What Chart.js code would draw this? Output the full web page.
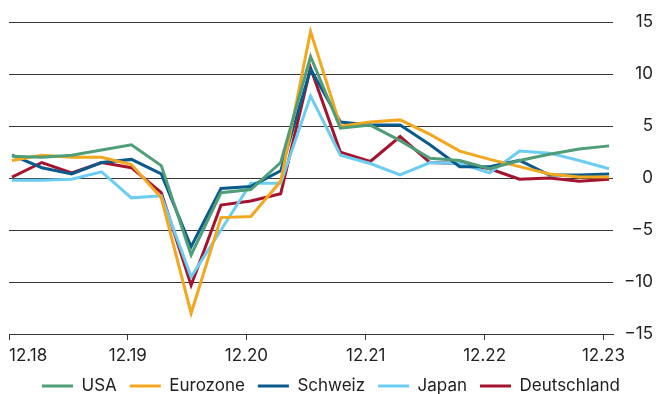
<!DOCTYPE html>
<html>
<head>
<meta charset="utf-8">
<script src="https://cdn.jsdelivr.net/npm/chart.js@4/dist/chart.umd.min.js"></script>
<style>
  html, body { margin: 0; padding: 0; background: #ffffff; }
  canvas { display: block; }
</style>
</head>
<body>
<canvas id="chart" width="667" height="394"></canvas>
<script>
// Quarterly growth rates (%, year over year), Q4 2018 – Q4 2023
const periods = [
  '12.18', '03.19', '06.19', '09.19',
  '12.19', '03.20', '06.20', '09.20',
  '12.20', '03.21', '06.21', '09.21',
  '12.21', '03.22', '06.22', '09.22',
  '12.22', '03.23', '06.23', '09.23',
  '12.23'
];

const usa = [2.1, 2.0, 2.2, 2.7, 3.2, 1.2, -7.4, -1.4, -1.1, 1.5, 11.7, 4.8, 5.1, 3.6, 1.9, 1.7, 0.9, 1.7, 2.3, 2.8, 3.1];
const eurozone = [1.7, 2.2, 2.0, 2.0, 1.3, -1.9, -13.0, -3.8, -3.7, -0.3, 14.1, 5.0, 5.4, 5.6, 4.2, 2.6, 1.8, 1.1, 0.4, 0.1, 0.1];
const schweiz = [2.2, 1.0, 0.4, 1.5, 1.8, 0.4, -6.6, -1.0, -0.8, 0.7, 10.5, 5.4, 5.1, 5.1, 3.2, 1.1, 1.1, 1.7, 0.3, 0.3, 0.4];
const japan = [-0.2, -0.2, -0.1, 0.6, -1.9, -1.7, -9.5, -5.0, -0.5, -0.5, 7.9, 2.2, 1.4, 0.3, 1.5, 1.4, 0.5, 2.6, 2.4, 1.7, 0.9];
const deutschland = [0.1, 1.5, 0.5, 1.5, 1.0, -1.4, -10.3, -2.6, -2.2, -1.5, 10.6, 2.5, 1.6, 4.0, 1.5, 1.4, 0.9, -0.1, 0.0, -0.3, -0.1];

// Year-end labels on the time axis (every fourth quarter)
const yearTicks = periods.filter((p, i) => i % 4 === 0);
const yTickValues = [15, 10, 5, 0, -5, -10, -15];

const FONT = { family: 'Inter, "Noto Sans", sans-serif', size: 17 };
const TEXT = '#222222';
const RULE = '#363636';

// Year marks sit slightly ahead of the December data points
const yearMarkAt = [-0.1, 3.88, 7.85, 11.85, 15.83, 19.81];
const X_MIN = -0.1;
const X_MAX = 20.13;

const LEGEND_HEIGHT = 29.5;
const X_AXIS_HEIGHT = 30.5;
const Y_AXIS_WIDTH = 40;

const toPoints = arr => arr.map((v, i) => ({ x: i, y: v }));

function series(label, values, color) {
  return {
    label,
    data: toPoints(values),
    borderColor: color,
    backgroundColor: color,
    borderWidth: 3,
    pointRadius: 0,
    tension: 0,
    borderJoinStyle: 'miter',
    borderCapStyle: 'butt'
  };
}

// Keep the legend strip compact at the foot of the canvas
const compactLegend = {
  id: 'compactLegend',
  beforeInit(chart) {
    const legend = chart.legend;
    if (!legend) return;
    const fit = legend.fit;
    legend.fit = function () {
      fit.call(this);
      this.height = LEGEND_HEIGHT;
    };
  }
};

new Chart(document.getElementById('chart'), {
  type: 'line',
  data: {
    datasets: [
      series('USA', usa, '#4f9e78'),
      series('Eurozone', eurozone, '#f2a71e'),
      series('Schweiz', schweiz, '#0a5a8c'),
      series('Japan', japan, '#6ccdf3'),
      series('Deutschland', deutschland, '#a5142f')
    ]
  },
  plugins: [compactLegend],
  options: {
    responsive: false,
    animation: false,
    layout: { padding: { left: 9, right: 14, top: 20.3, bottom: 0 } },
    plugins: {
      tooltip: { enabled: false },
      legend: {
        position: 'bottom',
        labels: {
          usePointStyle: true,
          pointStyle: 'line',
          pointStyleWidth: 31,
          padding: 13,
          font: FONT,
          color: TEXT
        }
      }
    },
    scales: {
      x: {
        type: 'linear',
        min: X_MIN,
        max: X_MAX,
        afterBuildTicks: scale => {
          scale.ticks = yearMarkAt.map(v => ({ value: v })).concat([{ value: X_MAX }]);
        },
        afterFit: scale => {
          scale.height = X_AXIS_HEIGHT;
        },
        ticks: {
          autoSkip: false,
          maxRotation: 0,
          align: 'inner',
          padding: 6,
          font: FONT,
          color: TEXT,
          callback: (value, index) => yearTicks[index] !== undefined ? yearTicks[index] : ''
        },
        grid: {
          drawOnChartArea: false,
          drawTicks: true,
          tickLength: 6,
          color: ctx => ctx.index === yearMarkAt.length ? 'rgba(0,0,0,0)' : RULE
        },
        border: { display: true, color: RULE, width: 1 }
      },
      y: {
        position: 'right',
        min: -15,
        max: 15,
        afterBuildTicks: scale => {
          scale.ticks = yTickValues.map(v => ({ value: v }));
        },
        afterFit: scale => {
          scale.width = Y_AXIS_WIDTH;
        },
        ticks: {
          crossAlign: 'far',
          padding: 12,
          font: FONT,
          color: TEXT,
          callback: v => (v < 0 ? '\u2212' + Math.abs(v) : String(v))
        },
        grid: { drawTicks: false, color: RULE, lineWidth: 1 },
        border: { display: false }
      }
    }
  }
});
</script>
</body>
</html>
